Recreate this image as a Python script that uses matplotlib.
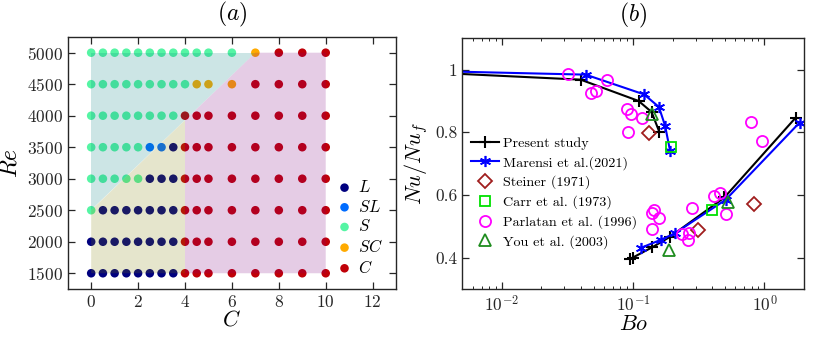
import numpy as np
import matplotlib
matplotlib.use("Agg")
import matplotlib.pyplot as plt
from matplotlib.patches import Polygon
from matplotlib.lines import Line2D

plt.rcParams['font.family'] = 'serif'
plt.rcParams['font.serif'] = ['cmr10', 'DejaVu Serif']
plt.rcParams['mathtext.fontset'] = 'cm'
plt.rcParams['axes.formatter.use_mathtext'] = True
plt.rcParams['axes.unicode_minus'] = False

# ---- panel (a): regime map ----
C_grid = [0, 0.5, 1, 1.5, 2, 2.5, 3, 3.5, 4, 4.5, 5, 6, 7, 8, 9, 10]
Re_levels = [1500, 2000, 2500, 3000, 3500, 4000, 4500, 5000]
regime_rows = {
    1500: ['L'] * 8 + ['C'] * 8,
    2000: ['L'] * 8 + ['C'] * 8,
    2500: ['S'] + ['L'] * 7 + ['C'] * 8,
    3000: ['S'] * 5 + ['L'] * 3 + ['C'] * 8,
    3500: ['S'] * 5 + ['SL'] * 2 + ['L'] + ['C'] * 8,
    4000: ['S'] * 8 + ['C'] * 8,
    4500: ['S'] * 9 + ['SC'] * 3 + ['C'] * 4,
    5000: ['S'] * 12 + ['SC'] + ['C'] * 3,
}
regimes = ['L', 'SL', 'S', 'SC', 'C']
regime_colors = {'L': '#00007f', 'SL': '#006cff', 'S': '#55f5a4',
                 'SC': '#ffaa00', 'C': '#c00008'}

# ---- panel (b): Nu/Nu_f vs Bo ----
present_up_bo = [0.001, 0.0398, 0.110, 0.138, 0.158]
present_up_nu = [1.0, 0.968, 0.900, 0.865, 0.802]
present_lo_bo = [0.094, 0.099, 0.1395, 0.19, 0.495, 1.73]
present_lo_nu = [0.396, 0.400, 0.433, 0.466, 0.592, 0.847]

marensi_up_bo = [0.001, 0.0435, 0.121, 0.157, 0.175, 0.191]
marensi_up_nu = [1.0, 0.984, 0.921, 0.881, 0.821, 0.741]
marensi_lo_bo = [0.114, 0.1625, 0.208, 0.507, 1.85]
marensi_lo_nu = [0.431, 0.457, 0.478, 0.585, 0.831]

steiner_bo = [0.132, 0.31, 0.834]
steiner_nu = [0.798, 0.489, 0.571]
carr_bo = [0.193, 0.401]
carr_nu = [0.754, 0.553]
parlatan_bo = [0.0319, 0.0481, 0.0519, 0.0637, 0.090, 0.097, 0.117, 0.092,
               0.1436, 0.1396, 0.157, 0.140, 0.237, 0.26, 0.267, 0.282,
               0.41, 0.458, 0.509, 0.791, 0.953]
parlatan_nu = [0.986, 0.926, 0.932, 0.968, 0.873, 0.860, 0.847, 0.801,
               0.553, 0.544, 0.526, 0.492, 0.476, 0.455, 0.478, 0.558,
               0.597, 0.606, 0.540, 0.833, 0.772]
you_bo = [0.140, 0.187, 0.525]
you_nu = [0.860, 0.425, 0.579]

axcol = '#262626'
fig = plt.figure(figsize=(8.3, 3.37), dpi=100)
ax1 = fig.add_axes([0.0816, 0.1424, 0.3956, 0.748])
ax2 = fig.add_axes([0.557, 0.1424, 0.4117, 0.744])

for reg in regimes:
    xs, ys = [], []
    for re in Re_levels:
        for c, r in zip(C_grid, regime_rows[re]):
            if r == reg:
                xs.append(c)
                ys.append(re)
    ax1.scatter(xs, ys, s=38, color=regime_colors[reg], edgecolors='none',
                zorder=2, label='$' + reg + '$')

# shaded regime regions (drawn over the points, translucent)
ax1.add_patch(Polygon([(0, 2500), (0, 5000), (7, 5000)], closed=True,
                      facecolor=(0, 0.5, 0.5), alpha=0.2, edgecolor='none', zorder=3))
ax1.add_patch(Polygon([(0, 1500), (4, 1500), (4, 2500 + 4 * 2500 / 7), (0, 2500)],
                      closed=True, facecolor=(0.5, 0.5, 0), alpha=0.2,
                      edgecolor='none', zorder=3))
ax1.add_patch(Polygon([(4, 1500), (10, 1500), (10, 5000), (7, 5000),
                       (4, 2500 + 4 * 2500 / 7)], closed=True,
                      facecolor=(0.5, 0, 0.5), alpha=0.2, edgecolor='none', zorder=3))

ax1.set_xlim(-1, 13)
ax1.set_ylim(1250, 5250)
ax1.set_xticks(range(0, 13, 2))
ax1.set_yticks(Re_levels)
ax1.set_xlabel('$C$', fontsize=16, labelpad=0)
ax1.set_ylabel('$Re$', fontsize=17, labelpad=4)
ax1.set_title('$(a)$', fontsize=17, pad=12)
ax1.legend(loc='lower right', frameon=False, fontsize=12, handletextpad=0.3,
           labelspacing=0.22, borderaxespad=0.4, handlelength=1.0)

ax2.plot(present_up_bo, present_up_nu, color='k', lw=1.5, marker='+', ms=9, mew=1.5)
ax2.plot(present_lo_bo, present_lo_nu, color='k', lw=1.5, marker='+', ms=9, mew=1.5)
ax2.plot(marensi_up_bo, marensi_up_nu, color='b', lw=1.5, marker=(6, 2, 0), ms=8, mew=1.2)
ax2.plot(marensi_lo_bo, marensi_lo_nu, color='b', lw=1.5, marker=(6, 2, 0), ms=8, mew=1.2)
ax2.plot(steiner_bo, steiner_nu, ls='none', marker='D', ms=7, mfc='none',
         mec='#a01e1e', mew=1.3)
ax2.plot(carr_bo, carr_nu, ls='none', marker='s', ms=7, mfc='none',
         mec='#00e000', mew=1.3)
ax2.plot(parlatan_bo, parlatan_nu, ls='none', marker='o', ms=8, mfc='none',
         mec='#ff00ff', mew=1.3)
ax2.plot(you_bo, you_nu, ls='none', marker='^', ms=9, mfc='none',
         mec='#1e8c1e', mew=1.3)

handles = [
    Line2D([], [], color='k', lw=1.5, marker='+', ms=9, mew=1.5),
    Line2D([], [], color='b', lw=1.5, marker=(6, 2, 0), ms=8, mew=1.2),
    Line2D([], [], ls='none', marker='D', ms=7, mfc='none', mec='#a01e1e', mew=1.3),
    Line2D([], [], ls='none', marker='s', ms=7, mfc='none', mec='#00e000', mew=1.3),
    Line2D([], [], ls='none', marker='o', ms=8, mfc='none', mec='#ff00ff', mew=1.3),
    Line2D([], [], ls='none', marker='^', ms=9, mfc='none', mec='#1e8c1e', mew=1.3),
]
labels = ['Present study', 'Marensi et al.(2021)', 'Steiner (1971)',
          'Carr et al. (1973)', 'Parlatan et al. (1996)', 'You et al. (2003)']
ax2.legend(handles, labels, loc='upper left', bbox_to_anchor=(0.0, 0.64),
           frameon=False, fontsize=10.2, handlelength=2.0, handletextpad=0.3,
           labelspacing=0.42, borderaxespad=0.2)

ax2.set_xscale('log')
ax2.set_xlim(0.005, 2)
ax2.set_ylim(0.3, 1.1)
ax2.set_yticks([0.4, 0.6, 0.8, 1.0])
ax2.set_yticklabels(['0.4', '0.6', '0.8', '1'])
ax2.set_xlabel('$Bo$', fontsize=16, labelpad=0)
ax2.set_ylabel('$Nu/Nu_f$', fontsize=16, labelpad=4)
ax2.set_title('$(b)$', fontsize=17, pad=12)

for ax in (ax1, ax2):
    for sp in ax.spines.values():
        sp.set_color(axcol)
        sp.set_linewidth(1.0)
    ax.tick_params(which='both', direction='in', top=True, right=True,
                   colors=axcol, labelsize=12.5, labelcolor='#262626')
    ax.tick_params(which='major', length=5, width=0.9)
    ax.tick_params(which='minor', length=2.5, width=0.7)

fig.savefig('out.png', dpi=100)
